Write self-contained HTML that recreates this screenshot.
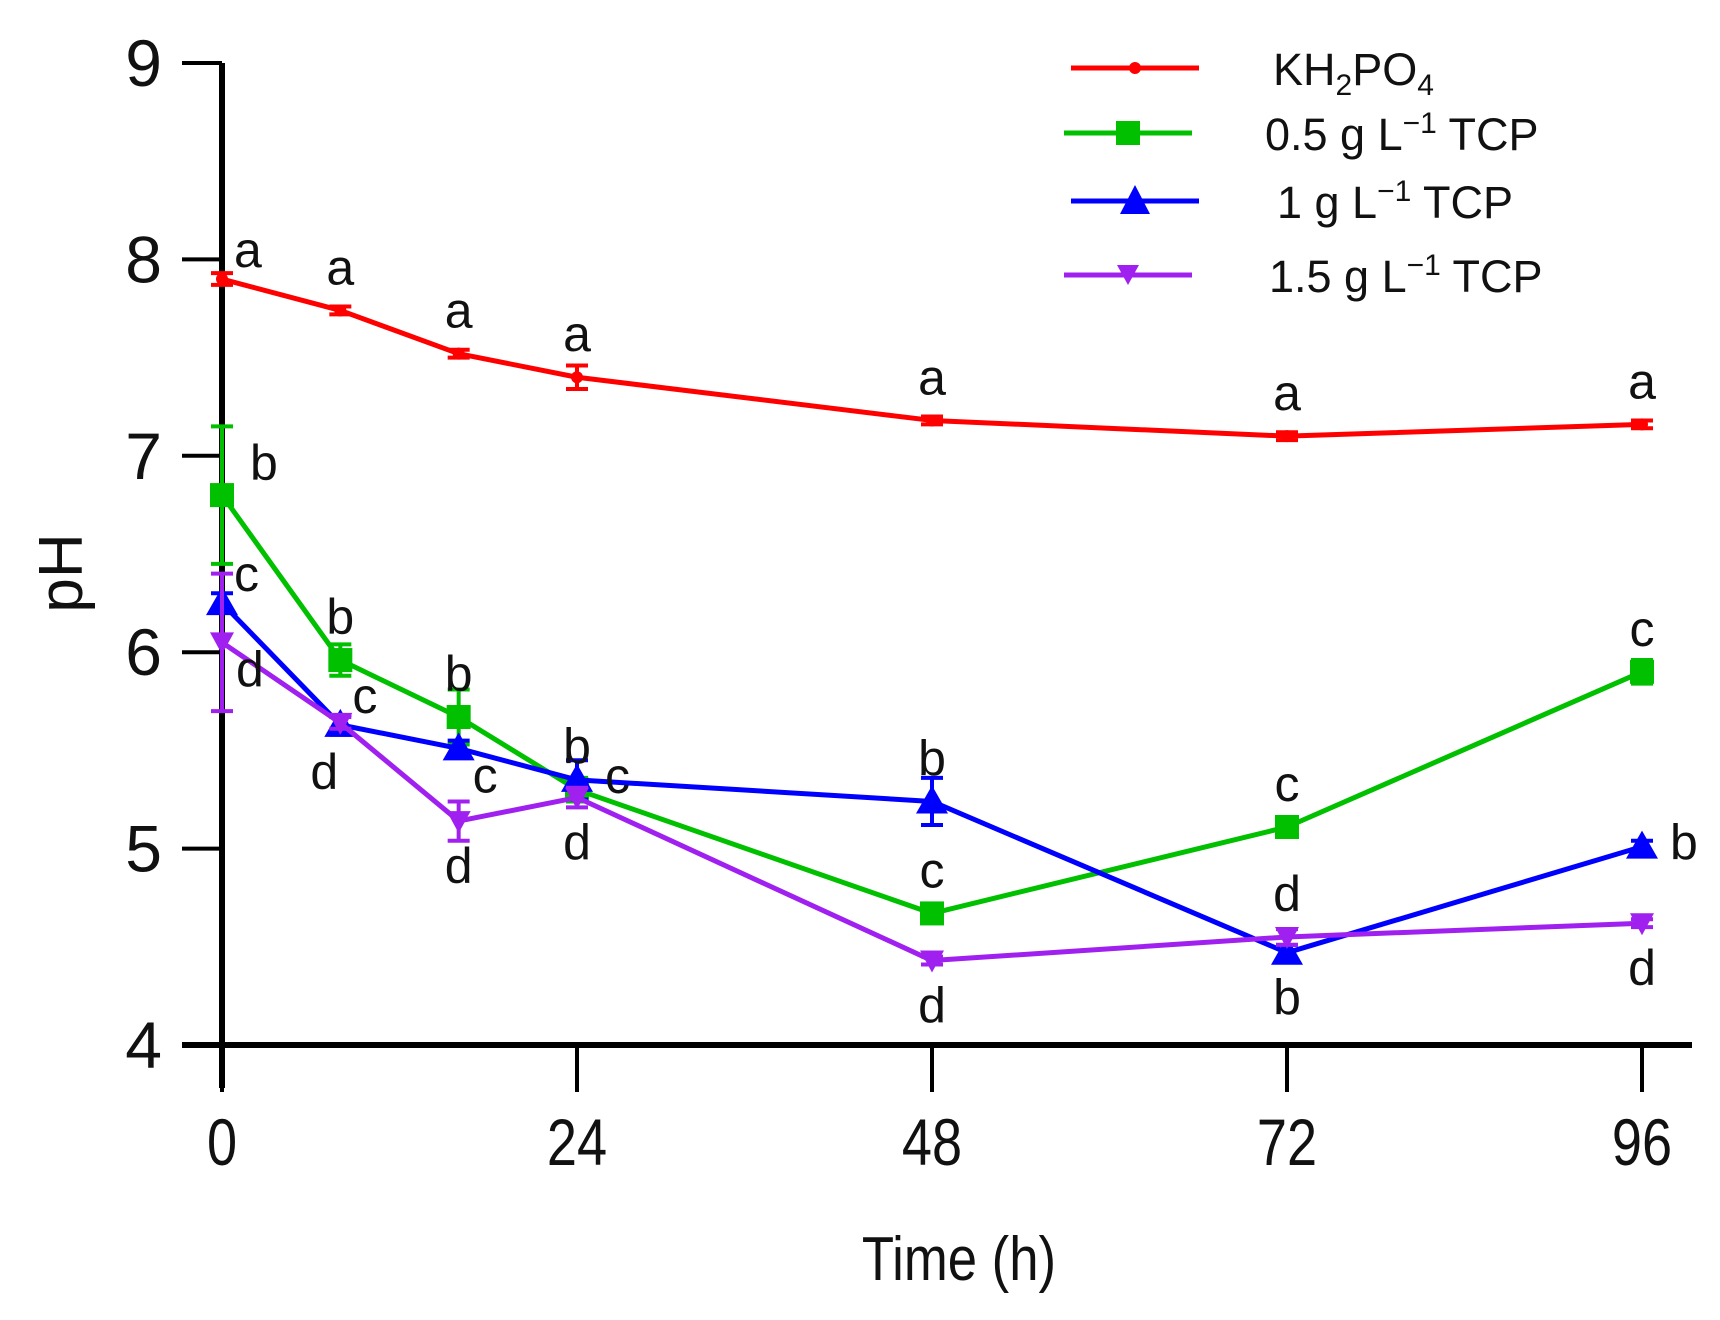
<!DOCTYPE html>
<html><head><meta charset="utf-8"><style>
html,body{margin:0;padding:0;background:#fff;}
svg{display:block;font-family:"Liberation Sans",Arial,sans-serif;}
</style></head><body>
<svg id="chart" width="1720" height="1320" viewBox="0 0 1720 1320" xmlns="http://www.w3.org/2000/svg">
<g id="axes"></g>
<g id="series"></g>
<g id="legend">
  <g>
    <line x1="1071" y1="68" x2="1199" y2="68" stroke="#ff0000" stroke-width="5"/>
    <circle cx="1135" cy="68" r="6" fill="#ff0000"/>
    <text x="1273" y="85" font-size="45" fill="#111">KH<tspan font-size="30" dy="10">2</tspan><tspan dy="-10">PO</tspan><tspan font-size="30" dy="10">4</tspan></text>
  </g>
  <g>
    <line x1="1064" y1="133" x2="1192" y2="133" stroke="#00c000" stroke-width="5"/>
    <rect x="1116" y="121" width="24" height="24" fill="#00c000"/>
    <text x="1265" y="150" font-size="45" fill="#111">0.5 g L<tspan font-size="30" dy="-17">−1</tspan><tspan dy="17"> TCP</tspan></text>
  </g>
  <g>
    <line x1="1071" y1="201" x2="1199" y2="201" stroke="#0000ff" stroke-width="5"/>
    <polygon points="1135,185 1150,214 1120,214" fill="#0000ff"/>
    <text x="1277" y="218" font-size="45" fill="#111">1 g L<tspan font-size="30" dy="-17">−1</tspan><tspan dy="17"> TCP</tspan></text>
  </g>
  <g>
    <line x1="1064" y1="275" x2="1192" y2="275" stroke="#a020f0" stroke-width="5"/>
    <polygon points="1117,265 1139,265 1128,285" fill="#a020f0"/>
    <text x="1269" y="292" font-size="45" fill="#111">1.5 g L<tspan font-size="30" dy="-17">−1</tspan><tspan dy="17"> TCP</tspan></text>
  </g>
</g>
</svg>
<script>
const times = [0, 8, 16, 24, 48, 72, 96];
const xTicks = [0, 24, 48, 72, 96];
const yTicks = [4, 5, 6, 7, 8, 9];
const seriesNames = ['kh2po4', 'tcp-0.5', 'tcp-1', 'tcp-1.5'];
const seriesColors = ['#ff0000', '#00c000', '#0000ff', '#a020f0'];
const seriesMarkers = ['circle', 'square', 'triangle', 'down'];
const redVals = [7.90, 7.74, 7.52, 7.40, 7.18, 7.10, 7.16];
const greenVals = [6.80, 5.96, 5.67, 5.30, 4.67, 5.11, 5.90];
const blueVals = [6.25, 5.63, 5.51, 5.35, 5.24, 4.47, 5.01];
const purpleVals = [6.05, 5.64, 5.14, 5.26, 4.43, 4.55, 4.62];
const redErr = [0.03, 0.02, 0.02, 0.06, 0.02, 0.02, 0.02];
const greenErr = [0.35, 0.08, 0.14, 0.06, 0.03, 0.03, 0.06];
const blueErr = [0.05, 0.05, 0.04, 0.10, 0.12, 0.04, 0.03];
const purpleErr = [0.35, 0.03, 0.10, 0.05, 0.02, 0.04, 0.02];
const redLetters = ['a','a','a','a','a','a','a'];
const greenLetters = ['b','b','b','b','c','c','c'];
const blueLetters = ['c','c','c','c','b','b','b'];
const purpleLetters = ['d','d','d','d','d','d','d'];
const redSides = ['ur','u','u','u','u','u','u'];
const greenSides = ['r','u','u','u','u','u','u'];
const blueSides = ['ur','ur','rd','r','u','d','r'];
const purpleSides = ['rd','dl','d','d','d','u','d'];

const NS = 'http://www.w3.org/2000/svg';
const X0 = 222, X1 = 1642, Y4 = 1045, Y9 = 63;
function xS(t){ return X0 + (t - 0) / 96 * (X1 - X0); }
function yS(v){ return Y4 - (v - 4) / 5 * (Y4 - Y9); }
function mk(tag, attrs, parent){ const e = document.createElementNS(NS, tag); for (const k in attrs) e.setAttribute(k, attrs[k]); parent.appendChild(e); return e; }

const axes = document.getElementById('axes');
const yAxis = mk('line', {x1: X0, y1: Y9, x2: X0, y2: 1088, stroke: '#000', 'stroke-width': 6}, axes);


const xAxis = mk('line', {x1: 182, y1: Y4, x2: 1692, y2: Y4, stroke: '#000', 'stroke-width': 6}, axes);


yTicks.forEach(v => {
  const tk = mk('line', {x1: 182, y1: yS(v), x2: X0, y2: yS(v), stroke: '#000', 'stroke-width': 4}, axes);
  
  
  const t = mk('text', {x: 162, y: yS(v) + 23, 'font-size': 66, 'text-anchor': 'end', fill: '#111'}, axes);
  t.textContent = v;
  
  
});
xTicks.forEach(v => {
  const tk = mk('line', {x1: xS(v), y1: Y4, x2: xS(v), y2: 1092, stroke: '#000', 'stroke-width': 4}, axes);
  
  
  const t = mk('text', {x: xS(v), y: 1165, 'font-size': 66, 'text-anchor': 'middle', fill: '#111', transform: 'translate(' + xS(v) + ',0) scale(0.82,1) translate(' + (-xS(v)) + ',0)'}, axes);
  t.textContent = v;
  
  
});
const xt = mk('text', {x: 959, y: 1280, 'font-size': 62, 'text-anchor': 'middle', fill: '#111', transform: 'translate(959,0) scale(0.85,1) translate(-959,0)'}, axes);
xt.textContent = 'Time (h)';


const yt = mk('text', {x: 0, y: 0, 'font-size': 62, 'text-anchor': 'middle', fill: '#111', transform: 'translate(82,573) rotate(-90)'}, axes);
yt.textContent = 'pH';



const allVals = [redVals, greenVals, blueVals, purpleVals];
const allErr = [redErr, greenErr, blueErr, purpleErr];
const allLetters = [redLetters, greenLetters, blueLetters, purpleLetters];
const allSides = [redSides, greenSides, blueSides, purpleSides];
const sg = document.getElementById('series');
const letterLayer = mk('g', {}, sg);
allVals.forEach((vals, si) => {
  const col = seriesColors[si];
  const g = mk('g', {}, sg);
  
  
  const pts = vals.map((v, i) => xS(times[i]) + ',' + yS(v)).join(' ');
  const pl = mk('polyline', {points: pts, fill: 'none', stroke: col, 'stroke-width': 5, 'stroke-linejoin': 'round'}, g);
  
  
  vals.forEach((v, i) => {
    const x = xS(times[i]), y = yS(v), e = allErr[si][i];
    const eb = mk('path', {d: 'M' + x + ',' + yS(v + e) + 'V' + yS(v - e) + 'M' + (x - 11) + ',' + yS(v + e) + 'h22M' + (x - 11) + ',' + yS(v - e) + 'h22', stroke: col, 'stroke-width': 4, fill: 'none'}, g);
    
    
    let m;
    const mkType = seriesMarkers[si];
    if (mkType === 'circle') m = mk('circle', {cx: x, cy: y, r: 6, fill: col}, g);
    else if (mkType === 'square') m = mk('rect', {x: x - 12, y: y - 12, width: 24, height: 24, fill: col}, g);
    else if (mkType === 'triangle') m = mk('polygon', {points: x + ',' + (y - 16) + ' ' + (x + 16) + ',' + (y + 12) + ' ' + (x - 16) + ',' + (y + 12), fill: col}, g);
    else m = mk('polygon', {points: (x - 12) + ',' + (y - 10) + ' ' + (x + 12) + ',' + (y - 10) + ' ' + x + ',' + (y + 12), fill: col}, g);
    
    
    const side = allSides[si][i];
    let lx = x, ly = y, anchor = 'middle';
    if (side === 'u') { ly = y - 26; }
    else if (side === 'ur') { lx = x + 12; ly = y - 12; anchor = 'start'; }
    else if (side === 'r') { lx = x + 28; ly = y - 5 + (si === 1 ? -10 : 18); anchor = 'start'; }
    else if (side === 'rd') { lx = x + 14; ly = y + 44; anchor = 'start'; }
    else if (side === 'd') { ly = y + 62; }
    else if (side === 'dl') { lx = x - 16; ly = y + 66; }
    const lt = mk('text', {x: lx, y: ly, 'font-size': 50, 'text-anchor': anchor, fill: '#111'}, letterLayer);
    lt.textContent = allLetters[si][i];
    
    
  });
});
sg.appendChild(letterLayer);
</script>
</body></html>
